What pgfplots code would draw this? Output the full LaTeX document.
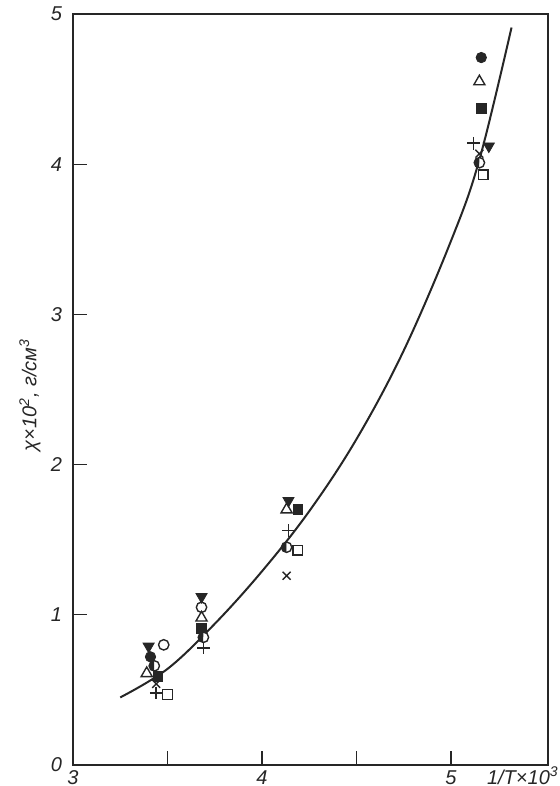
\documentclass[border=0pt]{standalone}
\usepackage{fontspec}
\setmainfont{Liberation Sans}
\usepackage{pgfplots}
\pgfplotsset{compat=1.18}
\usetikzlibrary{plotmarks}
\begin{document}
\begin{tikzpicture}
\path[use as bounding box] (-36.5pt,-10.5pt) rectangle (243.5pt,382.5pt);
\begin{axis}[
  at={(0,0)}, anchor=south west,
  width=237.5pt, height=375.5pt, scale only axis,
  xmin=3, xmax=5.513, ymin=0, ymax=5,
  axis line style={line width=0.75pt, black!85},
  xtick={3,3.5,4,4.5,5}, xticklabels={3,,4,,5},
  ytick={0,1,2,3,4,5}, yticklabels={0,1,2,3,4,5},
  tick pos=left, tick align=inside, major tick length=7pt,
  tick style={line width=0.6pt, black!85},
  /pgf/number format/assume math mode=true,
  ticklabel style={font=\itshape, black!85},
  xticklabel style={anchor=base, yshift=-9.5pt},
  yticklabel style={anchor=east, xshift=-2pt},
  clip=false,
]
\addplot[smooth, tension=0.6, line width=1pt, black!85] coordinates {
 (3.25,0.45) (3.5,0.64) (3.75,0.94) (4.0,1.29) (4.25,1.69) (4.5,2.17)
 (4.75,2.76) (5.0,3.49) (5.15,4.03) (5.32,4.91)};
% filled circle
\addplot[only marks, mark=*, mark size=2.6pt, black!85] coordinates {(3.41,0.72) (5.16,4.71)};
% open circle
\addplot[only marks, mark=o, mark size=2.6pt, black!85, mark options={line width=0.7pt}] coordinates {(3.48,0.80) (3.68,1.05)};
% open triangle
\addplot[only marks, mark=triangle, mark size=3.2pt, black!85, mark options={line width=0.7pt}] coordinates {(3.39,0.61) (3.68,0.98) (4.13,1.70) (5.15,4.55)};
% filled square
\addplot[only marks, mark=square*, mark size=2.4pt, black!85] coordinates {(3.45,0.59) (3.68,0.91) (4.19,1.70) (5.16,4.37)};
% filled down triangle
\addplot[only marks, mark=triangle*, mark size=3.2pt, black!85, mark options={rotate=180}] coordinates {(3.40,0.79) (3.68,1.12) (4.14,1.76) (5.20,4.12)};
% plus
\addplot[only marks, mark=+, mark size=3.2pt, black!85, mark options={line width=0.7pt}] coordinates {(3.44,0.48) (3.69,0.78) (4.14,1.56) (5.12,4.14)};
% cross
\addplot[only marks, mark=x, mark size=2.8pt, black!85, mark options={line width=0.7pt}] coordinates {(3.44,0.54) (4.13,1.26) (5.15,4.07)};
% half-filled circle
\addplot[only marks, mark=halfcircle*, mark size=2.6pt, black!85, mark options={rotate=90, fill=black!85, line width=0.7pt}] coordinates {(3.43,0.66) (3.69,0.85) (4.13,1.45) (5.15,4.01)};
% open square
\addplot[only marks, mark=square, mark size=2.4pt, black!85, mark options={line width=0.7pt}] coordinates {(3.50,0.47) (4.19,1.43) (5.17,3.93)};
\node[anchor=base, black!85, font=\itshape] at (axis cs:5.38,0) [yshift=-9.5pt] {1/T×10\textsuperscript{3}};
\end{axis}
\node[rotate=90, black!85, font=\itshape] at (-21.5pt,185pt) {χ×10\textsuperscript{2}, г/см\textsuperscript{3}};
\end{tikzpicture}
\end{document}
